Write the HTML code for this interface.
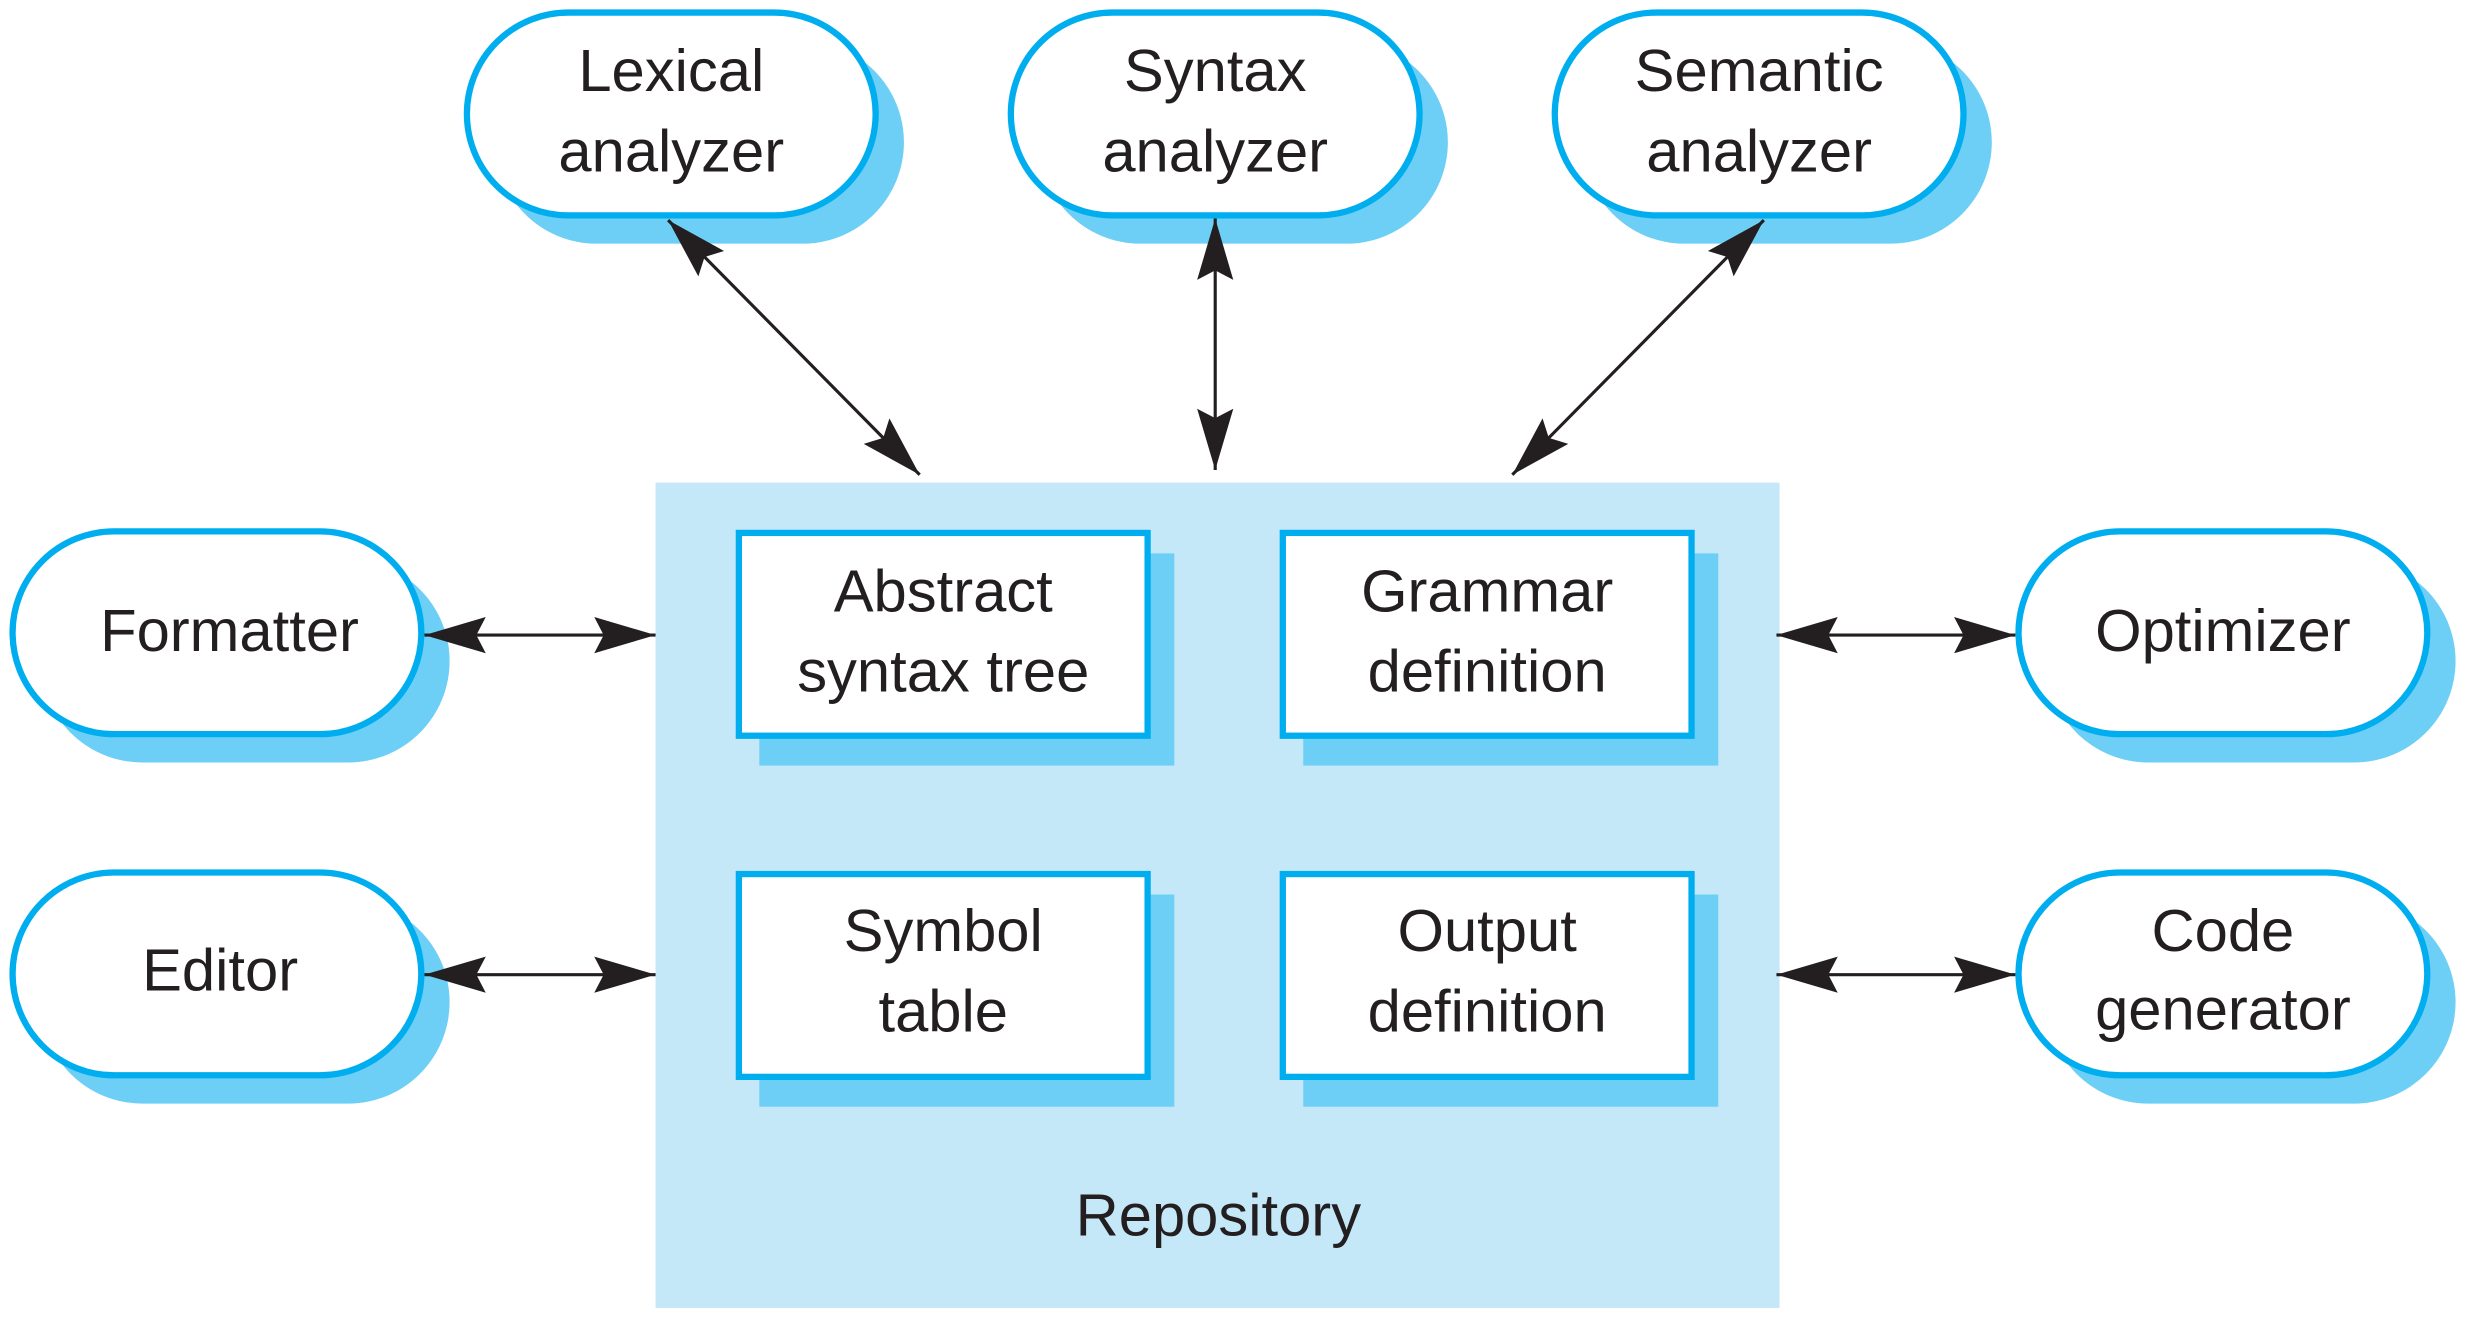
<!DOCTYPE html>
<html><head><meta charset="utf-8"><style>
html,body{margin:0;padding:0;background:#fff;}
svg{display:block;}
text{font-family:"Liberation Sans",sans-serif;font-size:38px;fill:#231f20;text-anchor:middle;}
</style></head><body>
<svg width="2465" height="1321" viewBox="0 0 1568 840.3" preserveAspectRatio="none" xmlns="http://www.w3.org/2000/svg">
<defs>
<marker id="a" markerUnits="userSpaceOnUse" markerWidth="45" markerHeight="30" refX="40" refY="12" orient="auto-start-reverse" viewBox="0 0 45 24">
<path d="M40,12 L1,0.5 L7,12 L1,23.5 Z" fill="#231f20"/>
</marker>
</defs>
<rect x="417" y="307" width="715" height="525" fill="#c5e8f9"/>
<!-- pills -->
<g fill="#6dcff6">
<rect x="315" y="26" width="260" height="129" rx="64.5"/>
<rect x="661" y="26" width="260" height="129" rx="64.5"/>
<rect x="1007" y="26" width="260" height="129" rx="64.5"/>
<rect x="26" y="356" width="260" height="129" rx="64.5"/>
<rect x="26" y="573" width="260" height="129" rx="64.5"/>
<rect x="1302" y="356" width="260" height="129" rx="64.5"/>
<rect x="1302" y="573" width="260" height="129" rx="64.5"/>
<rect x="483" y="352" width="264" height="135"/>
<rect x="829" y="352" width="264" height="135"/>
<rect x="483" y="569" width="264" height="135"/>
<rect x="829" y="569" width="264" height="135"/>
</g>
<g fill="#fff" stroke="#00aeef" stroke-width="4">
<rect x="297" y="8" width="260" height="129" rx="64.5"/>
<rect x="643" y="8" width="260" height="129" rx="64.5"/>
<rect x="989" y="8" width="260" height="129" rx="64.5"/>
<rect x="8" y="338" width="260" height="129" rx="64.5"/>
<rect x="8" y="555" width="260" height="129" rx="64.5"/>
<rect x="1284" y="338" width="260" height="129" rx="64.5"/>
<rect x="1284" y="555" width="260" height="129" rx="64.5"/>
<rect x="470" y="339" width="260" height="129"/>
<rect x="816" y="339" width="260" height="129"/>
<rect x="470" y="556" width="260" height="129"/>
<rect x="816" y="556" width="260" height="129"/>
</g>
<g stroke="#231f20" stroke-width="2" marker-start="url(#a)" marker-end="url(#a)">
<line x1="425" y1="140" x2="585" y2="302"/>
<line x1="773" y1="139" x2="773" y2="299"/>
<line x1="1122" y1="140" x2="962" y2="302"/>
<line x1="270" y1="404" x2="417" y2="404"/>
<line x1="270" y1="620" x2="417" y2="620"/>
<line x1="1130" y1="404" x2="1282" y2="404"/>
<line x1="1130" y1="620" x2="1282" y2="620"/>
</g>
<text x="427" y="58">Lexical</text><text x="427" y="109">analyzer</text>
<text x="773" y="58">Syntax</text><text x="773" y="109">analyzer</text>
<text x="1119" y="58">Semantic</text><text x="1119" y="109">analyzer</text>
<text x="146" y="414">Formatter</text>
<text x="140" y="630">Editor</text>
<text x="1414" y="414">Optimizer</text>
<text x="1414" y="605">Code</text><text x="1414" y="655">generator</text>
<text x="600" y="389">Abstract</text><text x="600" y="440">syntax tree</text>
<text x="946" y="389">Grammar</text><text x="946" y="440">definition</text>
<text x="600" y="605">Symbol</text><text x="600" y="656">table</text>
<text x="946" y="605">Output</text><text x="946" y="656">definition</text>
<text x="775" y="786">Repository</text>
</svg>
</body></html>
